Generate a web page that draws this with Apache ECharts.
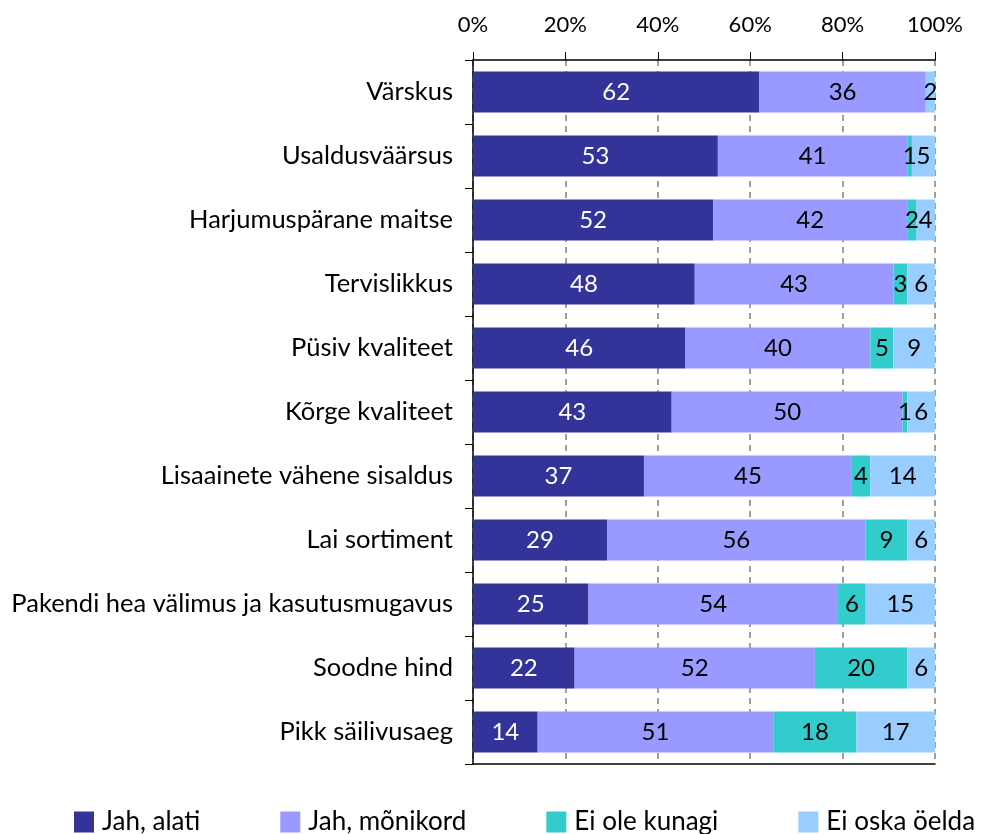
<!DOCTYPE html>
<html>
<head>
<meta charset="utf-8">
<script src="https://cdn.jsdelivr.net/npm/echarts@6/dist/echarts.min.js"></script>
<style>
  html, body { margin: 0; padding: 0; background: #fff; }
  #chart { width: 998px; height: 834px; }
</style>
</head>
<body>
<div id="chart"></div>
<script>
// andmed
const categories = [
  "Värskus", "Usaldusväärsus", "Harjumuspärane maitse", "Tervislikkus",
  "Püsiv kvaliteet", "Kõrge kvaliteet", "Lisaainete vähene sisaldus",
  "Lai sortiment", "Pakendi hea välimus ja kasutusmugavus", "Soodne hind",
  "Pikk säilivusaeg"
];
const seriesNames = ["Jah, alati", "Jah, mõnikord", "Ei ole kunagi", "Ei oska öelda"];
const jahAlati = [62, 53, 52, 48, 46, 43, 37, 29, 25, 22, 14];
const jahMonikord = [36, 41, 42, 43, 40, 50, 45, 56, 54, 52, 51];
const eiOleKunagi = [0, 1, 2, 3, 5, 1, 4, 9, 6, 20, 18];
const eiOskaOelda = [2, 5, 4, 6, 9, 6, 14, 6, 15, 6, 17];
const tickValues = [0, 20, 40, 60, 80, 100];

const colors = ["#333399", "#9999FF", "#33CCCC", "#99CCFF"];
const labelColors = ["#ffffff", "#000000", "#000000", "#000000"];
const font = "Lato, 'Open Sans', sans-serif";

const chart = echarts.init(document.getElementById("chart"));

const seriesData = [jahAlati, jahMonikord, eiOleKunagi, eiOskaOelda];

chart.setOption({
  animation: false,
  color: colors,
  textStyle: { fontFamily: font },
  grid: { left: 473, right: 63, top: 60, bottom: 70, containLabel: false },
  legend: {
    data: seriesNames,
    left: 74,
    top: 809,
    padding: 0,
    itemWidth: 20,
    itemHeight: 21,
    itemGap: 80,
    icon: "rect",
    textStyle: { fontSize: 26, color: "#000", fontFamily: font, padding: [0, 0, 0, 3] }
  },
  xAxis: [
    {
      type: "value",
      position: "top",
      min: tickValues[0],
      max: tickValues[tickValues.length - 1],
      interval: 20,
      axisLine: { show: true, lineStyle: { color: "#000", width: 1.5 } },
      axisTick: { show: true, length: 8, lineStyle: { color: "#000" } },
      axisLabel: {
        formatter: "{value}%",
        fontSize: 22,
        color: "#000",
        margin: 24,
        fontFamily: font
      },
      splitLine: {
        show: true,
        lineStyle: { color: "#808080", type: [6, 5], width: 1.5 }
      }
    },
    {
      type: "value",
      position: "bottom",
      min: 0,
      max: 100,
      axisLine: { show: true, lineStyle: { color: "#000", width: 1.5 } },
      axisTick: { show: false },
      axisLabel: { show: false },
      splitLine: { show: false }
    }
  ],
  yAxis: {
    type: "category",
    inverse: true,
    data: categories,
    axisLine: { show: true, lineStyle: { color: "#000", width: 1.5 } },
    axisTick: { show: true, length: 8, lineStyle: { color: "#000" } },
    axisLabel: { fontSize: 25.5, color: "#000", margin: 20, fontFamily: font }
  },
  series: seriesNames.map((name, i) => ({
    name: name,
    type: "bar",
    stack: "kokku",
    xAxisIndex: 0,
    barWidth: 41,
    data: seriesData[i],
    label: {
      show: true,
      position: "inside",
      fontSize: 24,
      color: labelColors[i],
      fontFamily: font,
      formatter: (p) => (p.value === 0 ? "" : p.value)
    }
  }))
});
</script>
</body>
</html>
